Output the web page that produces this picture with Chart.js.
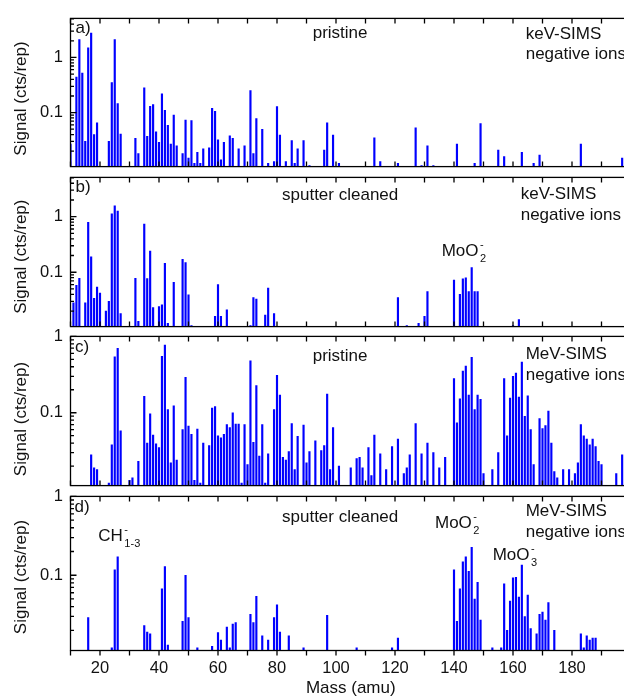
<!DOCTYPE html>
<html><head><meta charset="utf-8">
<script src="https://cdn.jsdelivr.net/npm/chart.js@4/dist/chart.umd.min.js"></script>
<style>
html,body{margin:0;padding:0;background:#fff;}
#wrap{position:relative;width:624px;height:696px;overflow:hidden;background:#fff;}
#wrap canvas{position:absolute;left:0;}
</style></head><body>
<div id="wrap">
<canvas id="pa"></canvas><canvas id="pb"></canvas><canvas id="pc"></canvas><canvas id="pd"></canvas>
</div>
<script>
// ---------- data ----------
const massA = [10,12,13,14,15,16,17,18,19,23,24,25,26,27,32,33,35,36,37,38,39,40,41,42,43,44,45,46,48,49,50,51,52,53,54,55,57,58,59,60,61,62,64,65,67,69,71,72,73,75,77,79,80,81,83,85,86,87,89,91,96,97,99,101,113,115,121,127,129,131,133,141,147,149,155,157,163,167,169,183,197];
const sigA  = [0.027,0.44,2.1,0.52,0.03,1.5,2.75,0.04,0.065,0.03,0.35,2.1,0.145,0.041,0.034,0.018,0.28,0.037,0.13,0.14,0.045,0.029,0.22,0.11,0.059,0.027,0.09,0.025,0.018,0.073,0.015,0.072,0.012,0.019,0.012,0.022,0.023,0.12,0.105,0.032,0.014,0.029,0.038,0.034,0.022,0.025,0.25,0.018,0.078,0.05,0.012,0.013,0.128,0.039,0.013,0.031,0.012,0.022,0.031,0.011,0.021,0.065,0.039,0.012,0.035,0.013,0.012,0.053,0.011,0.025,0.011,0.027,0.012,0.063,0.021,0.016,0.019,0.012,0.017,0.027,0.015];

const massB = [11,12,13,15,16,17,18,19,20,22,23,24,25,26,27,32,33,35,36,37,38,40,41,42,43,45,48,49,50,51,59,60,61,63,71,72,73,76,77,79,121,124,128,130,131,140,142,143,144,145,146,147,148,160,162];
const sigB  = [0.028,0.058,0.078,0.028,0.79,0.19,0.034,0.054,0.042,0.02,0.03,1.13,1.57,1.26,0.018,0.078,0.013,0.74,0.077,0.24,0.023,0.024,0.026,0.145,0.012,0.066,0.17,0.15,0.039,0.011,0.016,0.06,0.016,0.021,0.011,0.035,0.033,0.017,0.052,0.018,0.035,0.011,0.012,0.016,0.045,0.072,0.040,0.076,0.079,0.045,0.121,0.045,0.045,0.011,0.014];

const massC = [17,18,19,23,24,25,26,27,30,31,33,35,36,37,38,39,40,41,42,43,44,45,46,48,49,50,51,52,53,54,55,57,58,59,60,61,62,63,64,65,66,67,68,69,70,71,72,73,74,75,76,77,79,80,81,82,83,84,85,86,87,89,90,91,93,95,96,97,98,99,101,105,107,108,109,111,112,113,115,117,119,121,123,124,125,127,129,131,133,135,137,140,141,142,143,144,145,146,147,148,149,150,153,155,157,158,159,160,161,162,163,164,165,166,167,169,170,171,172,173,174,175,177,179,181,182,183,184,185,186,187,188,189,190,195,197];
const sigC  = [0.028,0.019,0.018,0.012,0.038,0.54,0.70,0.058,0.013,0.014,0.023,0.164,0.040,0.097,0.051,0.039,0.035,0.55,0.77,0.11,0.022,0.123,0.024,0.060,0.29,0.067,0.052,0.013,0.061,0.012,0.040,0.037,0.115,0.12,0.050,0.047,0.052,0.070,0.064,0.10,0.071,0.071,0.012,0.070,0.021,0.48,0.041,0.226,0.027,0.070,0.012,0.029,0.11,0.31,0.17,0.026,0.024,0.031,0.072,0.018,0.049,0.069,0.022,0.031,0.043,0.032,0.037,0.176,0.018,0.064,0.020,0.019,0.025,0.026,0.019,0.035,0.015,0.051,0.029,0.018,0.036,0.045,0.016,0.019,0.028,0.072,0.029,0.040,0.030,0.019,0.026,0.28,0.074,0.152,0.35,0.41,0.17,0.53,0.11,0.17,0.15,0.016,0.018,0.030,0.28,0.05,0.155,0.30,0.33,0.16,0.46,0.09,0.167,0.06,0.021,0.084,0.062,0.068,0.105,0.04,0.017,0.014,0.018,0.018,0.016,0.022,0.07,0.05,0.045,0.038,0.045,0.036,0.023,0.021,0.016,0.028];

const massD = [16,24,25,26,35,36,37,41,42,43,48,49,50,53,58,60,61,63,64,65,66,71,72,73,75,77,79,80,81,84,89,97,107,119,121,140,141,142,143,144,145,146,147,148,149,153,156,157,158,159,160,161,162,163,164,165,166,168,169,170,171,172,174,183,184,185,186,187,188];
const sigD  = [0.029,0.012,0.117,0.171,0.023,0.019,0.018,0.067,0.129,0.013,0.026,0.10,0.029,0.012,0.0125,0.0187,0.015,0.022,0.012,0.024,0.025,0.032,0.025,0.054,0.017,0.015,0.029,0.042,0.019,0.017,0.012,0.031,0.012,0.012,0.016,0.117,0.026,0.067,0.148,0.171,0.112,0.226,0.050,0.081,0.027,0.012,0.012,0.078,0.02,0.047,0.093,0.094,0.053,0.135,0.03,0.056,0.021,0.018,0.032,0.034,0.027,0.045,0.020,0.018,0.012,0.017,0.015,0.016,0.016];

const xTickValues  = [10,20,30,40,50,60,70,80,90,100,110,120,130,140,150,160,170,180,190,200];
const xLabelValues = [20,40,60,80,100,120,140,160,180];
const yTickValues  = [0.02,0.03,0.04,0.05,0.06,0.07,0.08,0.09,0.1,0.2,0.3,0.4,0.5,0.6,0.7,0.8,0.9,1,2,3,4,5];
const yLabelValues = [0.1, 1];
const yLabelTexts  = ['0.1', '1'];

// ---------- drawing ----------
const FONT = '"Liberation Sans", Arial, sans-serif';
const TXT = '#111';
const BLUE = '#0000ff';

function drawRich(ctx, x, y, main, sup, sub) {
  ctx.font = '17px ' + FONT;
  ctx.fillText(main, x, y);
  const w = ctx.measureText(main).width;
  ctx.font = '11px ' + FONT;
  if (sup) ctx.fillText(sup, x + w + 1.5, y - 8);
  if (sub) ctx.fillText(sub, x + w + 1.5, y + 6);
}

function framePlugin(cfg) {
  return {
    id: 'frame_' + cfg.id,
    afterDraw(chart) {
      const ctx = chart.ctx;
      const {left, top, right, bottom} = chart.chartArea;
      const xs = chart.scales.x, ys = chart.scales.y;
      ctx.save();
      ctx.strokeStyle = '#000';
      ctx.lineWidth = 1.3;
      ctx.strokeRect(left, top, right - left, bottom - top);
      ctx.beginPath();
      for (const v of yTickValues) {
        if (v < ys.min || v > ys.max) continue;
        const y = ys.getPixelForValue(v);
        const len = yLabelValues.includes(v) ? 6 : 3.5;
        ctx.moveTo(left, y); ctx.lineTo(left + len, y);
      }
      for (const v of xTickValues) {
        const x = xs.getPixelForValue(v);
        ctx.moveTo(x, top); ctx.lineTo(x, top + 5);
        ctx.moveTo(x, bottom); ctx.lineTo(x, bottom + (cfg.showX ? 5 : -5));
      }
      ctx.stroke();
      // texts
      const off = cfg.canvasTop;
      ctx.fillStyle = TXT;
      ctx.textBaseline = 'alphabetic';
      ctx.textAlign = 'left';
      ctx.font = '17px ' + FONT;
      for (const t of cfg.texts) {
        if (t.sup || t.sub) drawRich(ctx, t.x, t.y - off, t.t, t.sup, t.sub);
        else { ctx.font = '17px ' + FONT; ctx.fillText(t.t, t.x, t.y - off); }
      }
      // y axis title
      ctx.save();
      ctx.font = '17px ' + FONT;
      ctx.textAlign = 'center';
      ctx.translate(25.8, cfg.titleY - off);
      ctx.rotate(-Math.PI / 2);
      ctx.fillText('Signal (cts/rep)', 0, 0);
      ctx.restore();
      ctx.restore();
    }
  };
}

function panelChart(cfg) {
  const canvas = document.getElementById(cfg.id);
  canvas.style.top = cfg.canvasTop + 'px';
  canvas.width = 631; canvas.height = cfg.canvasHeight;
  return new Chart(canvas, {
    type: 'bar',
    data: { datasets: [{
      data: cfg.mass.map((m, i) => ({x: m, y: cfg.sig[i]})),
      backgroundColor: BLUE, borderWidth: 0, barThickness: 1.5
    }]},
    options: {
      responsive: false, animation: false, devicePixelRatio: 1,
      layout: {padding: {top: cfg.padTop, bottom: cfg.padBottom, left: 0, right: 0}},
      plugins: {legend: {display: false}, tooltip: {enabled: false}},
      scales: {
        x: {
          type: 'linear', min: 10, max: 200, offset: false, display: cfg.showX,
          grid: {display: false, drawTicks: false}, border: {display: false},
          afterBuildTicks: s => { s.ticks = xLabelValues.map(v => ({value: v})); },
          ticks: {autoSkip: false, maxRotation: 0, padding: 7.6, color: TXT,
                  font: {family: FONT, size: 16.5}, callback: v => String(v)},
          title: {display: cfg.showX, text: 'Mass (amu)', color: TXT,
                  font: {family: FONT, size: 17}, padding: {top: 0, bottom: 5.8}},
          afterFit: s => { if (cfg.showX) s.height = cfg.xAxisHeight; }
        },
        y: {
          type: 'logarithmic', min: cfg.yMin, max: cfg.yMax,
          grid: {display: false, drawTicks: false}, border: {display: false},
          afterBuildTicks: s => { s.ticks = yTickValues.filter(v => v >= cfg.yMin && v <= cfg.yMax + 1e-9).map(v => ({value: v})); },
          ticks: {autoSkip: false, padding: 7.5, color: TXT, font: {family: FONT, size: 16.5},
                  callback: v => { const i = yLabelValues.indexOf(v); return i >= 0 ? yLabelTexts[i] : ''; }},
          afterFit: s => { s.width = 70.5; }
        }
      }
    },
    plugins: [framePlugin(cfg)]
  });
}

panelChart({id: 'pa', canvasTop: 1, canvasHeight: 183, padTop: 12, padBottom: 12, showX: false,
  mass: massA, sig: sigA, yMin: 0.0105, yMax: 5.1, titleY: 98.5,
  texts: [{t: 'a)', x: 75.5, y: 33}, {t: 'pristine', x: 312.7, y: 38.2},
          {t: 'keV-SIMS', x: 525.7, y: 39.3}, {t: 'negative ions', x: 525.7, y: 59.3}]});
panelChart({id: 'pb', canvasTop: 160, canvasHeight: 184, padTop: 12, padBottom: 12.5, showX: false,
  mass: massB, sig: sigB, yMin: 0.0105, yMax: 5.1, titleY: 256.7,
  texts: [{t: 'b)', x: 75.5, y: 192}, {t: 'sputter cleaned', x: 282, y: 200.3},
          {t: 'keV-SIMS', x: 520.7, y: 199.3}, {t: 'negative ions', x: 520.7, y: 219.6},
          {t: 'MoO', sup: '-', sub: '2', x: 441.7, y: 256}]});
panelChart({id: 'pc', canvasTop: 319, canvasHeight: 184, padTop: 12.5, padBottom: 12, showX: false,
  mass: massC, sig: sigC, yMin: 0.0111, yMax: 1, titleY: 419,
  texts: [{t: 'c)', x: 75, y: 351.5}, {t: 'pristine', x: 312.7, y: 360.5},
          {t: 'MeV-SIMS', x: 525.7, y: 359}, {t: 'negative ions', x: 525.7, y: 380}]});
panelChart({id: 'pd', canvasTop: 479, canvasHeight: 225, padTop: 12, padBottom: 0, showX: true, xAxisHeight: 53.5,
  mass: massD, sig: sigD, yMin: 0.0111, yMax: 1, titleY: 577,
  texts: [{t: 'd)', x: 74.5, y: 512}, {t: 'sputter cleaned', x: 282, y: 521.5},
          {t: 'MeV-SIMS', x: 525.7, y: 515.7}, {t: 'negative ions', x: 525.7, y: 537},
          {t: 'MoO', sup: '-', sub: '2', x: 435, y: 528.3},
          {t: 'MoO', sup: '-', sub: '3', x: 492.7, y: 560},
          {t: 'CH', sup: '-', sub: '1-3', x: 98.3, y: 541}]});
</script>
</body></html>
